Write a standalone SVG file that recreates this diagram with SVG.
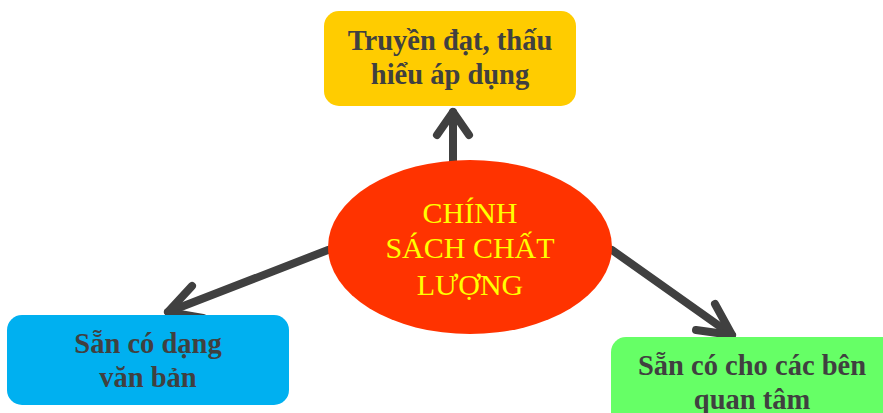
<svg xmlns="http://www.w3.org/2000/svg" width="883" height="413" viewBox="0 0 883 413">
<style>
.box text{font-family:"Liberation Serif",serif;font-weight:bold;font-size:28.5px;fill:#404040;text-anchor:middle}
.center text{font-family:"Liberation Serif",serif;font-size:30px;fill:#FFFF00;text-anchor:middle}
.conn path{fill:none;stroke:#404040;stroke-width:8;stroke-linecap:round;stroke-linejoin:round}
</style>
<rect width="883" height="413" fill="#ffffff"/>
<g class="conn" id="connectors">
<path d="M453 162 L453 112"/>
<path d="M437 135 L453 112 L469 135"/>
<path d="M328 250 L168 312"/>
<path d="M192 286 L168 312 L203 318"/>
<path d="M612 250 L732 335"/>
<path d="M715 304 L732 335 L696 330"/>
</g>
<g class="center" id="node-center">
<ellipse cx="470" cy="247" rx="142" ry="87" fill="#FF3300"/>
<text x="470" y="223">CHÍNH</text>
<text x="470" y="258">SÁCH CHẤT</text>
<text x="470" y="295">LƯỢNG</text>
</g>
<g class="box" id="node-top">
<rect x="324" y="11" width="252" height="95" rx="15" fill="#FFCC00"/>
<text x="450" y="50">Truyền đạt, thấu</text>
<text x="450" y="84">hiểu áp dụng</text>
</g>
<g class="box" id="node-left">
<rect x="7" y="315" width="282" height="90" rx="15" fill="#00B0F0"/>
<text x="148" y="353">Sẵn có dạng</text>
<text x="148" y="387">văn bản</text>
</g>
<g class="box" id="node-right">
<rect x="611" y="337" width="290" height="90" rx="15" fill="#66FF66"/>
<text x="752" y="375">Sẵn có cho các bên</text>
<text x="752" y="409">quan tâm</text>
</g>
</svg>
